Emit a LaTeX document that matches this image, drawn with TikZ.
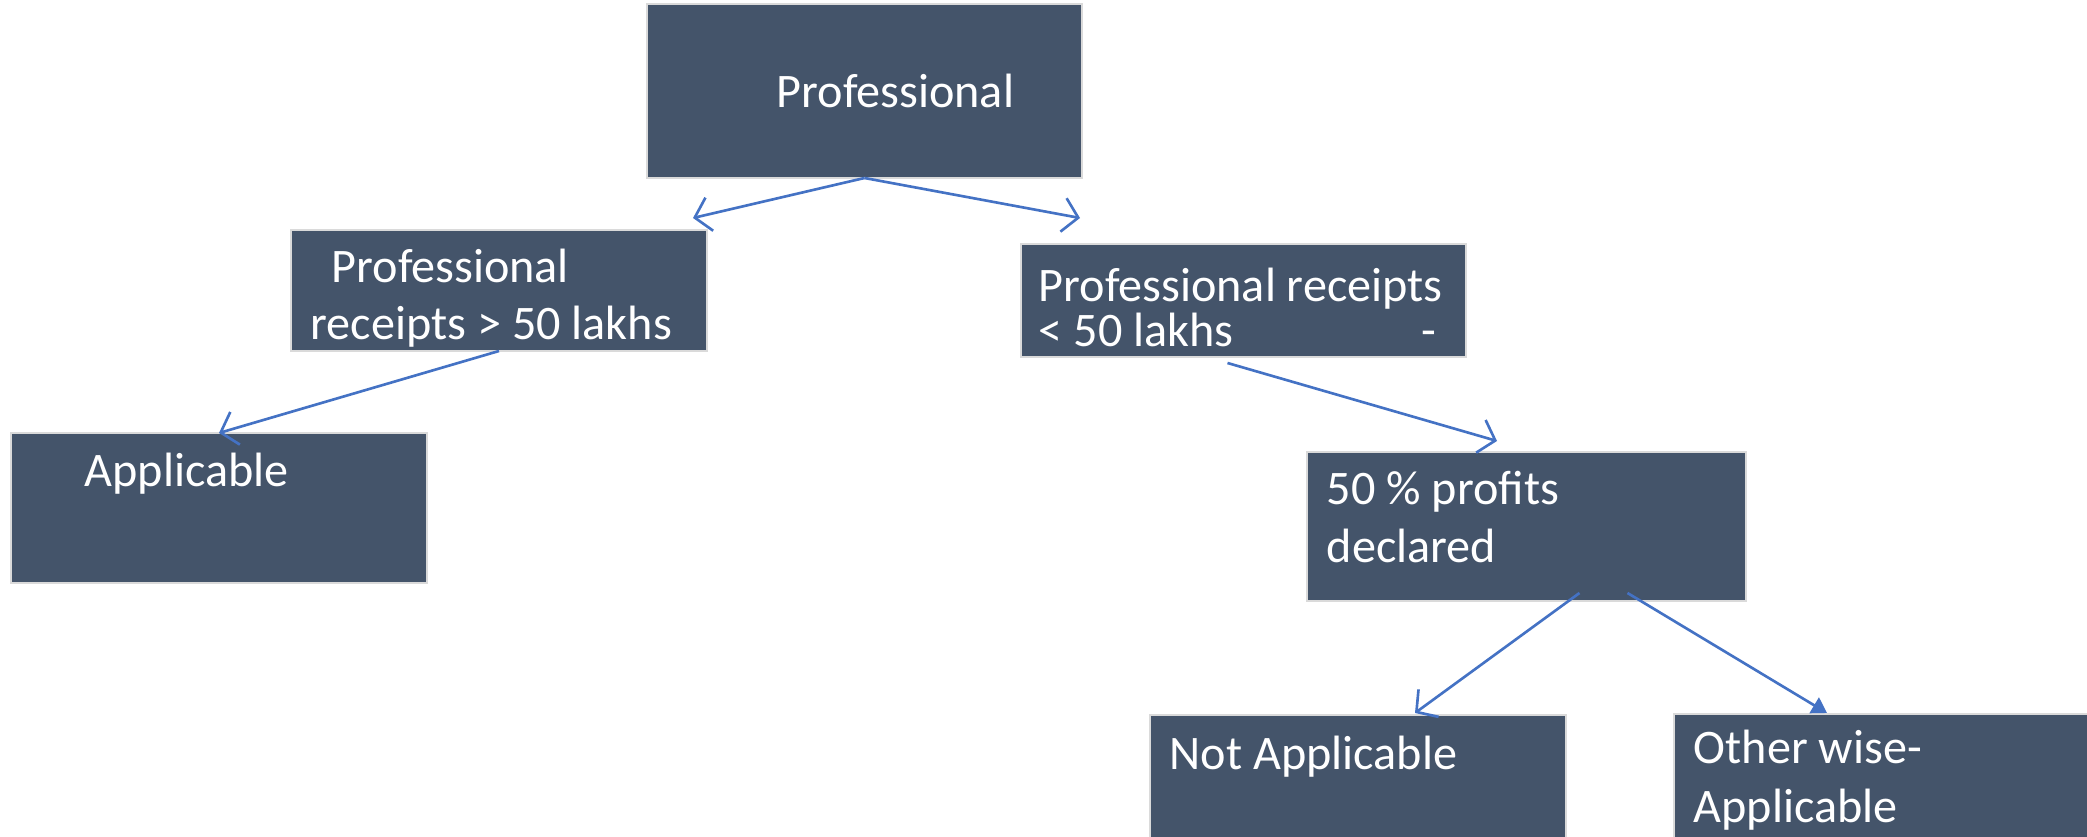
\documentclass[tikz,border=0pt]{standalone}
\usepackage{fontspec}
\setmainfont{Carlito}
\usetikzlibrary{arrows.meta,positioning,calc}
\definecolor{boxfill}{HTML}{44546A}
\definecolor{boxline}{HTML}{DADADA}
\definecolor{linkblue}{HTML}{4472C4}
\tikzset{
    box/.style={draw=boxline, line width=0.6pt, fill=boxfill, rectangle, inner sep=0pt, outer sep=0pt, anchor=north west},
    boxtext/.style={text=white, font=\fontsize{13.7}{16}\selectfont, anchor=base west, inner sep=0pt},
    link/.style={draw=linkblue, line width=0.75pt, -{Straight Barb[length=1.5mm,width=3.4mm]}},
    linkfill/.style={draw=linkblue, line width=0.75pt, -{Triangle[length=1.5mm,width=1.8mm]}}
}
% name, x, y (top left), width, height -- all in pixels
\newcommand\flowbox[5]{%
    \node[box, minimum width=#4*0.01cm, minimum height=#5*0.01cm] (#1) at (#2,#3) {}}

\begin{document}
\begin{tikzpicture}[x=0.01cm,y=-0.01cm]
    \useasboundingbox (0,0) rectangle (2087,837);
    % boxes
    \flowbox{prof}{647}{4}{435}{174};
    \flowbox{gt}{291}{230}{416}{121};
    \flowbox{lt}{1021}{244}{445}{113};
    \flowbox{app}{11}{433}{416}{150};
    \flowbox{decl}{1307}{452}{439}{149};
    \flowbox{notapp}{1150}{715}{416}{126};
    \flowbox{other}{1674}{714}{418}{127};
    % texts
    \node[boxtext] (proft) at (776,108) {Professional};
    \node[boxtext] (gta) at (331,283) {Professional};
    \node[boxtext] (gtb) at (310,340) {receipts > 50 lakhs};
    \node[boxtext] (lta) at (1038,302) {Professional receipts};
    \node[boxtext] (ltb) at (1038,347) {\makebox[3.97cm][l]{< 50 lakhs\hfill-}};
    \node[boxtext] (appt) at (84,487) {Applicable};
    \node[boxtext] (decla) at (1326,505) {50 \% profits};
    \node[boxtext] (declb) at (1326,563) {declared};
    \node[boxtext] (notappt) at (1169,770) {Not Applicable};
    \node[boxtext] (othera) at (1693,763) {Other wise-};
    \node[boxtext] (otherb) at (1693,823) {Applicable};
    % free ends
    \coordinate (profl) at (693,218);
    \coordinate (profr) at (1080,218);
    \coordinate (ltend) at (1497,441);
    \coordinate (notend) at (1415,713);
    \coordinate (othend) at (1827,713);
    % connectors
    \draw[link] (prof.south) -- (profl);
    \draw[link] (prof.south) -- (profr);
    \draw[link] (gt.south) -- (app.north);
    \draw[link] ($(lt.south)+(-16,6)$) -- (ltend);
    \draw[link] ($(decl.south)+(53,-8)$) -- (notend);
    \draw[linkfill] ($(decl.south)+(101,-8)$) -- (othend);
\end{tikzpicture}
\end{document}
